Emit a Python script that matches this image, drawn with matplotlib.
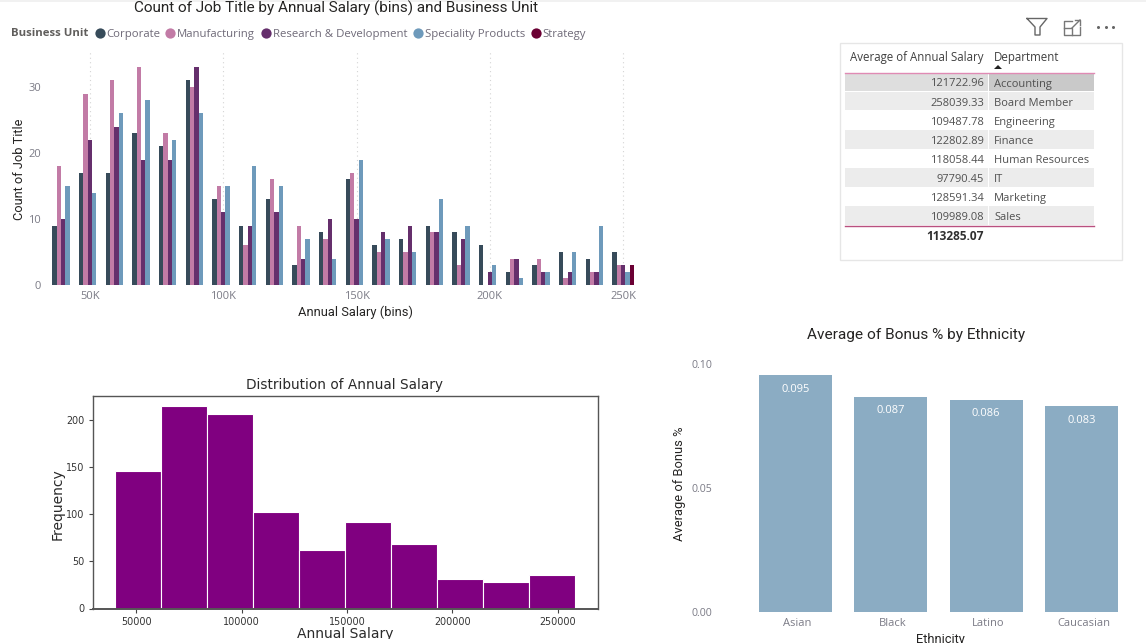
import matplotlib
matplotlib.use("Agg")
import matplotlib.pyplot as plt
from matplotlib.patches import Rectangle, Polygon
from matplotlib.transforms import Bbox, ScaledTranslation
import numpy as np

# Count of job title per salary bin
bins = [40, 50, 60, 70, 80, 90, 100, 110, 120, 130, 140, 150, 160, 170, 180, 190, 200, 210, 220, 230, 240, 250]
corporate = [9, 17, 17, 23, 21, 31, 13, 9, 13, 3, 8, 16, 6, 7, 9, 8, 6, 2, 3, 5, 4, 5]
manufacturing = [18, 29, 31, 33, 23, 30, 15, 6, 16, 9, 7, 17, 5, 5, 8, 3, 0, 4, 4, 1, 2, 3]
research = [10, 22, 24, 19, 19, 33, 11, 9, 11, 4, 10, 10, 8, 9, 8, 7, 2, 4, 2, 2, 2, 3]
speciality = [15, 14, 26, 28, 22, 26, 15, 18, 15, 7, 4, 19, 7, 5, 13, 9, 3, 1, 2, 5, 9, 2]
strategy = [0, 0, 0, 0, 0, 0, 0, 0, 0, 0, 0, 0, 0, 0, 0, 0, 0, 0, 0, 0, 0, 3]
unit_names = ["Corporate", "Manufacturing", "Research & Development", "Speciality Products", "Strategy"]
unit_colors = ["#374B5A", "#C27BA6", "#652F6C", "#6E9ABB", "#6B0034"]

# Salary table
departments = ["Accounting", "Board Member", "Engineering", "Finance", "Human Resources", "IT", "Marketing", "Sales"]
avg_salary = ["121722.96", "258039.33", "109487.78", "122802.89", "118058.44", "97790.45", "128591.34", "109989.08"]
total_salary = "113285.07"

# Histogram of annual salary
hist_edges = [40000, 61800, 83600, 105400, 127200, 149000, 170800, 192600, 214400, 236200, 258000]
hist_counts = [146, 215, 207, 103, 62, 92, 69, 31, 28, 36]

# Bonus by ethnicity
ethnicity = ["Asian", "Black", "Latino", "Caucasian"]
bonus = [0.0954, 0.0868, 0.0856, 0.083]

W, H = 1146, 643
BI_FONT = "Open Sans"
TITLE_FONT = "Roboto"
GREY = "#7b7b86"
DARK = "#252423"

fig = plt.figure(figsize=(W / 100, H / 100), dpi=100, facecolor="white")


def axes_px(left, top, right, bottom):
    return fig.add_axes([left / W, 1 - bottom / H, (right - left) / W, (bottom - top) / H])


# overlay in pixel coordinates for the text furniture and table
page = fig.add_axes([0, 0, 1, 1], zorder=-1)
page.set_xlim(0, W)
page.set_ylim(H, 0)
page.axis("off")

page.add_patch(Rectangle((0, 0), W, 2, color="#f1f1f1", lw=0))

# --- clustered bars, top left
ax1 = axes_px(48, 52, 636, 285)
width = 1.625
all_units = [corporate, manufacturing, research, speciality, strategy]
for i, values in enumerate(all_units):
    xs = np.array(bins) + (i - 2) * width
    ax1.bar(xs, values, width=width, color=unit_colors[i], linewidth=0, zorder=3)
ax1.set_xlim(34.25, 254.8)
ax1.set_ylim(0, 35.3)
ax1.set_xticks([50, 100, 150, 200, 250])
ax1.set_xticklabels(["50K", "100K", "150K", "200K", "250K"])
ax1.set_yticks([0, 10, 20, 30])
ax1.tick_params(axis="x", length=0, labelsize=8, labelcolor=GREY, pad=4)
ax1.tick_params(axis="y", length=0, labelsize=8, labelcolor=GREY, pad=5)
for lab in ax1.get_xticklabels() + ax1.get_yticklabels():
    lab.set_fontfamily(BI_FONT)
ax1.grid(axis="x", color="#d4d4d4", linestyle=(0, (1, 3)), linewidth=0.8, zorder=0)
for s in ax1.spines.values():
    s.set_visible(False)

page.text(336, 8.5, "Count of Job Title by Annual Salary (bins) and Business Unit", ha="center", va="center",
          fontsize=10.95, family=TITLE_FONT, color=DARK)
page.text(20, 169, "Count of Job Title", rotation=90, ha="center", va="center", fontsize=9.2, family=TITLE_FONT, color=DARK)
page.text(356, 312.5, "Annual Salary (bins)", ha="center", va="center", fontsize=9.3, family=TITLE_FONT, color=DARK)

# legend drawn by hand to keep the Power BI spacing
page.text(11, 34, "Business Unit", ha="left", va="center", fontsize=8.2, fontweight="bold", family=BI_FONT, color="#605e5c")
legend_dots = [99.5, 170, 266, 418, 535.5]
for name, col, dot_x in zip(unit_names, unit_colors, legend_dots):
    page.plot([dot_x], [33], "o", ms=7.4, color=col, mew=0)
    page.text(dot_x + 7, 34, name, ha="left", va="center", fontsize=8.2, family=BI_FONT, color="#6f6a78")

# --- table, top right
page.add_patch(Rectangle((839.5, 42.5), 282, 217, fc="white", ec="#e6e6e6", lw=1))
row_h = 19.05
row_top = 73
for i, (dept, sal) in enumerate(zip(departments, avg_salary)):
    y = row_top + i * row_h
    shade = "#ececec" if i % 2 else "white"
    left_col, right_col = shade, shade
    if i == 0:
        left_col, right_col = "#dedede", "#c9c9c9"
    page.add_patch(Rectangle((845, y), 143, row_h - 0.6, fc=left_col, lw=0))
    page.add_patch(Rectangle((989, y), 105, row_h - 0.6, fc=right_col, lw=0))
    page.text(984, y + 11, sal, ha="right", va="center", fontsize=8, family=BI_FONT, color="#505050")
    page.text(994, y + 11, dept, ha="left", va="center", fontsize=8, family=BI_FONT, color="#505050")
page.plot([845, 1094], [72.5, 72.5], color="#e08ab4", lw=1)
page.plot([845, 1094], [225.5, 225.5], color="#b9507f", lw=1)
page.text(984, 58, "Average of Annual Salary", ha="right", va="center", fontsize=8.3, family=BI_FONT, color="#404040")
page.text(994, 58, "Department", ha="left", va="center", fontsize=8.3, family=BI_FONT, color="#404040")
page.add_patch(Polygon([(994, 69), (1002, 69), (998, 65)], color="#222222", lw=0))
page.text(984, 236.5, total_salary, ha="right", va="center", fontsize=8.6, fontweight="bold", family=BI_FONT, color="#303030")

# header icons
page.plot([1027, 1047, 1040, 1040, 1035, 1035, 1027], [18.5, 18.5, 27, 35, 35, 27, 18.5], color="#666666", lw=1)
page.plot([1072, 1063.5, 1063.5, 1080, 1080], [21, 21, 35, 35, 27], color="#777777", lw=1)
page.plot([1063.5, 1072, 1072], [28, 28, 35], color="#777777", lw=1)
page.plot([1072, 1080], [28, 20], color="#777777", lw=1)
page.plot([1075, 1080, 1080], [20, 20, 25], color="#777777", lw=1)
page.plot([1098, 1105.5, 1113], [27, 27, 27], "o", ms=2.2, color="#666666", mew=0)

# --- histogram, bottom left
ax2 = axes_px(92.5, 396, 598, 608.5)
ax2.bar(hist_edges[:-1], hist_counts, width=np.diff(hist_edges), align="edge", color="purple", edgecolor="white", linewidth=0.8)
ax2.set_xlim(29200, 269100)
ax2.set_ylim(0, 225.75)
ax2.set_xticks([50000, 100000, 150000, 200000, 250000])
ax2.set_yticks([0, 50, 100, 150, 200])
ax2.tick_params(labelsize=6.9, labelcolor="#333333", length=3, width=0.8, color="#444444", pad=3)
for s in ax2.spines.values():
    s.set_color("#555555")
    s.set_linewidth(1)
ax2.spines["bottom"].set_linewidth(1.4)
page.text(344.5, 385.5, "Distribution of Annual Salary", ha="center", va="center", fontsize=9.8, color="#2a2a2a")
page.text(58, 504, "Frequency", rotation=90, ha="center", va="center", fontsize=10, color="#2a2a2a")
xlab = page.text(345, 634, "Annual Salary", ha="center", va="center", fontsize=10, color="#2a2a2a")
# the source image cuts off the descender
xlab.set_clip_box(Bbox([[0, H - 639], [W, H]]))
xlab.set_clip_on(True)

# --- bonus bars, bottom right
ax3 = axes_px(718, 364, 1128, 612)
ax3.bar(range(len(ethnicity)), bonus, width=0.767, color="#8BACC3", linewidth=0)
for i, val in enumerate(bonus):
    ax3.text(i, val - 0.0035, f"{val:.3f}", ha="center", va="top", fontsize=8, color="white", family=BI_FONT)
ax3.set_xlim(-0.813, 3.488)
ax3.set_ylim(0, 0.1)
ax3.set_xticks(range(len(ethnicity)))
ax3.set_xticklabels(ethnicity)
ax3.set_yticks([0, 0.05, 0.1])
ax3.set_yticklabels(["0.00", "0.05", "0.10"])
ax3.tick_params(axis="x", length=0, labelsize=8, labelcolor=GREY, pad=4)
ax3.tick_params(axis="y", length=0, labelsize=7.6, labelcolor=GREY, pad=4)
for lab in ax3.get_xticklabels() + ax3.get_yticklabels():
    lab.set_fontfamily(BI_FONT)
# category labels sit a touch right of the bars in the reference
shift = ScaledTranslation(2 / 100, 0, fig.dpi_scale_trans)
for lab in ax3.get_xticklabels():
    lab.set_transform(lab.get_transform() + shift)
for s in ax3.spines.values():
    s.set_visible(False)
page.text(916, 335, "Average of Bonus % by Ethnicity", ha="center", va="center", fontsize=11.05, family=TITLE_FONT, color=DARK)
page.text(679.5, 484, "Average of Bonus %", rotation=90, ha="center", va="center", fontsize=9.3, family=TITLE_FONT, color=DARK)
page.text(940, 639.5, "Ethnicity", ha="center", va="center", fontsize=9.3, family=TITLE_FONT, color=DARK)

fig.savefig("out.png", dpi=100)
